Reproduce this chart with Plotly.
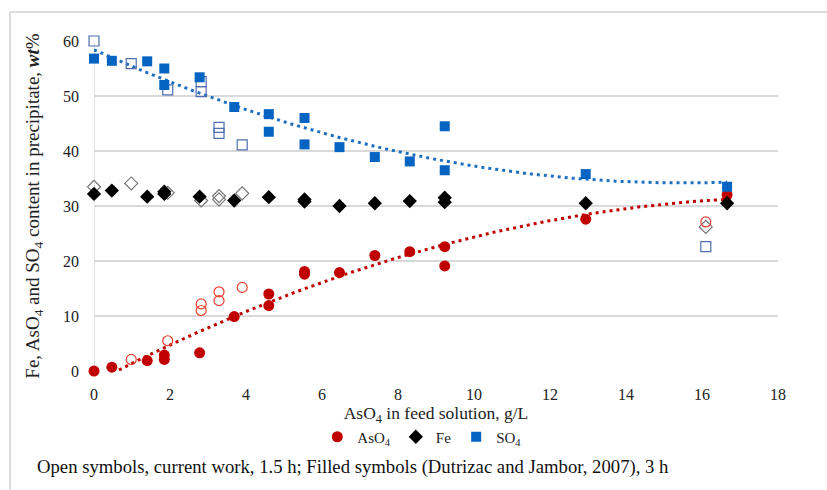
import numpy as np
import plotly.graph_objects as go

# ---- data ----
x_filled = [0, 0.47, 1.40, 1.85, 1.85, 2.78, 3.69, 4.60, 4.60, 5.54, 5.54,
            6.46, 7.39, 8.31, 9.23, 9.23, 12.94, 16.66]
aso4_filled = [0, 0.7, 1.9, 2.9, 2.1, 3.3, 9.9, 14.0, 11.9, 18.1, 17.6,
               17.9, 21.0, 21.7, 22.6, 19.1, 27.6, 32.0]
so4_filled = [56.8, 56.4, 56.3, 55.0, 52.0, 53.4, 48.0, 46.7, 43.5, 46.0, 41.2,
              40.7, 38.9, 38.1, 44.5, 36.5, 35.8, 33.5]

x_fe_filled = [0, 0.47, 1.40, 1.85, 1.85, 2.78, 3.69, 4.60, 5.54, 5.54,
               6.46, 7.39, 8.31, 9.23, 9.23, 12.94, 16.66]
fe_filled = [32.2, 32.8, 31.7, 32.6, 32.2, 31.7, 31.0, 31.6, 31.2, 30.8,
             30.0, 30.5, 30.9, 31.5, 30.7, 30.5, 30.5]

x_so4_open = [0, 0.98, 1.94, 2.82, 2.82, 3.29, 3.29, 3.90, 16.1]
so4_open = [60.0, 55.9, 51.1, 52.6, 50.8, 44.3, 43.2, 41.1, 22.6]

x_aso4_open = [0.98, 1.94, 2.82, 2.82, 3.29, 3.29, 3.90, 16.1]
aso4_open = [2.1, 5.5, 12.2, 11.0, 14.4, 12.8, 15.2, 27.1]

x_fe_open = [0, 0.98, 1.94, 2.82, 3.29, 3.29, 3.90, 16.1]
fe_open = [33.5, 34.1, 32.4, 31.0, 31.8, 31.2, 32.3, 26.2]

x_ticks = [0, 2, 4, 6, 8, 10, 12, 14, 16, 18]
y_ticks = [0, 10, 20, 30, 40, 50, 60]

# ---- styles ----
RED = "#C00000"
BLUE = "#0563C1"
BLACK = "#000000"
FONT = "Liberation Serif"

# polynomial (order 2) trendlines of the filled series
xt = np.linspace(0, max(x_filled), 200)
p_as = np.polyfit(x_filled, aso4_filled, 2)
p_so = np.polyfit(x_filled, so4_filled, 2)
yt_as = np.polyval(p_as, xt)
yt_so = np.polyval(p_so, xt)

fig = go.Figure()

# trendlines
fig.add_trace(go.Scatter(x=xt, y=yt_so, mode="lines", showlegend=False,
                         line=dict(color="#1F6FC0", width=3, dash="3px,4px"),
                         hoverinfo="skip"))
fig.add_trace(go.Scatter(x=xt, y=yt_as, mode="lines", showlegend=False,
                         line=dict(color=RED, width=3, dash="3px,4px"),
                         hoverinfo="skip"))

# open symbols (current work)
fig.add_trace(go.Scatter(x=x_so4_open, y=so4_open, mode="markers", showlegend=False,
                         cliponaxis=False,
                         marker=dict(symbol="square-open", size=10, color="#4E6EB0",
                                     line=dict(width=1.2))))
fig.add_trace(go.Scatter(x=x_fe_open, y=fe_open, mode="markers", showlegend=False,
                         cliponaxis=False,
                         marker=dict(symbol="diamond-open", size=10, color="#707070",
                                     line=dict(width=1.1))))
fig.add_trace(go.Scatter(x=x_aso4_open, y=aso4_open, mode="markers", showlegend=False,
                         cliponaxis=False,
                         marker=dict(symbol="circle-open", size=10, color="#E8402F",
                                     line=dict(width=1.2))))

# filled symbols (Dutrizac and Jambor, 2007)
fig.add_trace(go.Scatter(x=x_filled, y=aso4_filled, mode="markers", name="AsO<sub>4</sub>",
                         cliponaxis=False,
                         marker=dict(symbol="circle", size=11, color=RED)))
fig.add_trace(go.Scatter(x=x_fe_filled, y=fe_filled, mode="markers", name="Fe",
                         cliponaxis=False,
                         marker=dict(symbol="diamond", size=11, color=BLACK)))
fig.add_trace(go.Scatter(x=x_filled, y=so4_filled, mode="markers", name="SO<sub>4</sub>",
                         cliponaxis=False,
                         marker=dict(symbol="square", size=10, color=BLUE)))

L, R, T, B = 94, 49, 41, 119
W, H = 827, 490
pw, ph = W - L - R, H - T - B

fig.update_layout(
    width=W, height=H,
    margin=dict(l=L, r=R, t=T, b=B),
    paper_bgcolor="white", plot_bgcolor="white",
    font=dict(family=FONT, size=16, color="#222222"),
    showlegend=True,
    legend=dict(orientation="h", x=0.48, xanchor="center", y=-(437 - 371) / ph,
                yanchor="middle", font=dict(family=FONT, size=15, color="#222222"),
                itemwidth=30, tracegroupgap=0, bgcolor="rgba(0,0,0,0)"),
    xaxis=dict(range=[0, 18], tickvals=x_ticks, showgrid=False, zeroline=False,
               showline=False, ticks="", tickfont=dict(size=16),
               ticklabelstandoff=12,
               title=dict(text="AsO<sub>4</sub> in feed solution, g/L",
                          font=dict(size=17.5), standoff=3)),
    yaxis=dict(range=[0, 60], tickvals=y_ticks, showgrid=True, gridcolor="#D9D9D9",
               gridwidth=1.5, zeroline=False, showline=False, ticks="",
               tickfont=dict(size=16), ticklabelstandoff=14,
               title=dict(text="Fe, AsO<sub>4</sub> and SO<sub>4</sub> content in precipitate, <b><i>wt</i></b>%",
                          font=dict(size=19), standoff=18)),
    shapes=[
        # vertical axis line at x = 0
        dict(type="line", xref="x", yref="y", x0=0, x1=0, y0=0, y1=60,
             line=dict(color="#D9D9D9", width=1.5), layer="below"),
        # light outer frame (left and top edges)
        dict(type="line", xref="paper", yref="paper",
             x0=(10 - L) / pw, x1=(10 - L) / pw, y0=(H - B - 495) / ph, y1=(H - B - 12) / ph,
             line=dict(color="#D0D0D0", width=1.5)),
        dict(type="line", xref="paper", yref="paper",
             x0=(10 - L) / pw, x1=(830 - L) / pw, y0=(H - B - 12) / ph, y1=(H - B - 12) / ph,
             line=dict(color="#D0D0D0", width=1.5)),
    ],
    annotations=[
        dict(text="Open symbols, current work, 1.5 h; Filled symbols (Dutrizac and Jambor, 2007), 3 h",
             xref="paper", yref="paper", x=(35 - L) / pw, y=-(467 - 371) / ph,
             xanchor="left", yanchor="middle", showarrow=False,
             font=dict(family=FONT, size=18.7, color="#111111")),
    ],
)

fig.write_html("out.html")
